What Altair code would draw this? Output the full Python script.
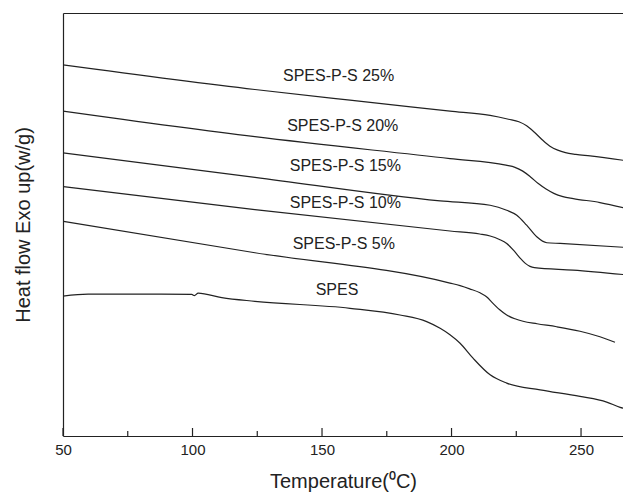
import altair as alt
import pandas as pd

FONT = "Liberation Sans"
INK = "#222222"

# ---- data (temperature in degC, heat flow in arbitrary units) ----
series_names = ["SPES-P-S 25%", "SPES-P-S 20%", "SPES-P-S 15%", "SPES-P-S 10%", "SPES-P-S 5%", "SPES"]

t_25 = [50, 124.1, 160.8, 199.4, 214.9, 222, 226, 229, 232, 235, 238, 241, 244, 248, 253.5, 269.3]
v_25 = [372, 347.3, 336.6, 325.7, 321.3, 317.5, 315, 311, 304.5, 297, 290.5, 286.5, 284, 282.3, 280.7, 275.3]

t_20 = [50, 124.1, 199.4, 221, 224.5, 227.5, 230.5, 233.5, 236.5, 239.5, 243, 247, 257.3, 269.3]
v_20 = [325.7, 300, 278, 271.5, 269.3, 265.5, 259.7, 253, 247.5, 243.2, 240, 238, 234, 227]

t_15 = [50, 124.1, 195.6, 214.9, 221.3, 225.2, 229, 232.9, 236.8, 241.9, 269.3]
v_15 = [283.7, 259.3, 235.7, 231.3, 226.3, 221.3, 211.3, 199.7, 193.7, 193, 188.7]

t_10 = [50, 124.1, 199.4, 210.9, 214.9, 218.5, 221.3, 224, 226.4, 228.5, 230.3, 232, 246.9, 268.5]
v_10 = [250, 227, 205.5, 202.5, 200.5, 197, 193, 186, 178.5, 173, 170, 168.8, 166.3, 161.3]

t_5 = [50, 124.1, 199.4, 203.3, 207, 211, 213.5, 216, 218.6, 221.3, 224.5, 227.6, 233, 240.6, 249.6, 257.3, 263.1]
v_5 = [215.3, 183.7, 153.3, 150.7, 147.5, 143.5, 139.5, 133, 126.5, 121.3, 117.5, 115, 112.5, 109.5, 105, 99.5, 94]

t_0 = [50, 59.7, 82.8, 99.7, 100.7, 102.2, 111.3, 124.1, 160.8, 180.1, 190.4, 195.6, 199.4,
       203.3, 208.3, 214.9, 221.3, 234.2, 249.6, 259.9, 265.1, 269.3]
v_0 = [140.3, 142.3, 142.3, 142, 140.7, 143.3, 138.7, 135, 128, 121.3, 114.7, 108, 101.5,
       93, 78, 61.3, 53, 46.3, 39.7, 34, 28.7, 26.3]

label_t = [156.4, 158.0, 159.0, 159.0, 158.4, 155.8]
label_v = [360.7, 310.5, 270.5, 234, 192.5, 146.2]

major_ticks = [50, 100, 150, 200, 250]
minor_ticks = [75, 125, 175, 225]

# ---- tables ----
rows = []
for name, ts, vs in zip(series_names, [t_25, t_20, t_15, t_10, t_5, t_0], [v_25, v_20, v_15, v_10, v_5, v_0]):
    for t, v in zip(ts, vs):
        rows.append({"series": name, "T": t, "v": v})
df = pd.DataFrame(rows)
labels_df = pd.DataFrame({"label": series_names, "T": label_t, "v": label_v})
major_df = pd.DataFrame({"T": major_ticks})
minor_df = pd.DataFrame({"T": minor_ticks})

W, H = 560, 423
xscale = alt.Scale(domain=[50, 266.2], nice=False, zero=False)
yscale = alt.Scale(domain=[0, 424], nice=False, zero=False)
yaxis = alt.Axis(title="Heat flow Exo up(w/g)", labels=False, ticks=False, grid=False,
                 domain=True, domainColor=INK, domainWidth=1.2, titleFontSize=20,
                 titlePadding=30, titleColor=INK)

lines = alt.Chart(df).mark_line(color=INK, strokeWidth=1.2, interpolate="monotone", clip=True).encode(
    x=alt.X("T:Q", scale=xscale,
            axis=alt.Axis(values=major_ticks, tickSize=0, labelFontSize=15, labelPadding=6,
                          labelFlush=False, labelColor=INK, grid=False, domainColor=INK,
                          domainWidth=1.2, title="Temperature(\u2070C)", titleFontSize=20,
                          titlePadding=14, titleColor=INK)),
    y=alt.Y("v:Q", scale=yscale, axis=yaxis),
    detail="series:N",
)

majors = alt.Chart(major_df).mark_rule(color=INK, strokeWidth=1.2).encode(
    x=alt.X("T:Q", scale=xscale,
            axis=alt.Axis(orient="top", labels=False, ticks=False, title=None, grid=False,
                          domainColor=INK, domainWidth=1.2)),
    y=alt.value(H),
    y2=alt.value(H - 8),
)

minors = alt.Chart(minor_df).mark_rule(color=INK, strokeWidth=1.2).encode(
    x=alt.X("T:Q", scale=xscale, axis=None),
    y=alt.value(H),
    y2=alt.value(H - 5),
)

texts = alt.Chart(labels_df).mark_text(font=FONT, fontSize=16, color=INK, align="center",
                                       baseline="middle").encode(
    x=alt.X("T:Q", scale=xscale, axis=None),
    y=alt.Y("v:Q", scale=yscale, axis=yaxis),
    text="label:N",
)

chart = alt.layer(lines, majors, minors, texts).resolve_axis(x="independent").properties(
    width=W, height=H,
    padding={"left": 55, "top": 5, "right": 0, "bottom": 56},
    autosize=alt.AutoSizeParams(type="none"),
).configure_view(stroke=None).configure_axis(
    labelFont=FONT, titleFont=FONT, titleFontWeight="normal"
)

chart.save("out.html", embed_options={"renderer": "svg", "actions": False})
